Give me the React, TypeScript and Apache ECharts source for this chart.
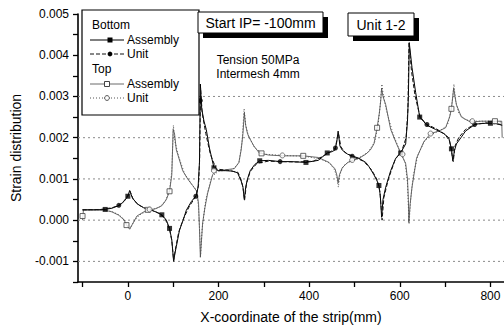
import React, { useEffect, useRef } from "react";
import * as echarts from "echarts";

const FONT = '"Liberation Sans", Arial, Helvetica, sans-serif';

// Bottom - Assembly (solid, filled squares)
const baX = [-100, -70, -50, -35, -18, -8, 0, 4, 10, 20, 35, 50, 62, 75, 85, 92, 97, 101, 104, 107, 114, 122, 129, 140, 151, 155, 158, 160, 163, 168, 173, 180, 190, 200, 215, 230, 242, 250, 254, 257, 260, 264, 270, 280, 291, 310, 336, 360, 393, 420, 440, 450, 457, 461, 464, 468, 473, 485, 495, 510, 525, 532, 543, 550, 554, 557, 560, 563, 569, 580, 591, 602, 613, 617, 619, 621, 624, 627, 635, 644, 652, 660, 679, 697, 708, 714, 717, 721, 725, 735, 745, 767, 790, 810, 826];
const baY = [0.00025, 0.00025, 0.00026, 0.00029, 0.00036, 0.00046, 0.00058, 0.00072, 0.00054, 0.0004, 0.0003, 0.00025, 0.0002, 0.00013, 0.0, -0.0002, -0.00048, -0.001, -0.0008, -0.00064, -0.00024, 0.0, 0.00024, 0.00045, 0.0006, 0.0008, 0.0014, 0.0033, 0.0027, 0.0024, 0.0022, 0.00175, 0.00127, 0.0012, 0.0012, 0.00119, 0.00115, 0.00095, 0.0008, 0.0005, 0.0008, 0.001, 0.0012, 0.00135, 0.00144, 0.00145, 0.00142, 0.00142, 0.0014, 0.00145, 0.00163, 0.00166, 0.0017, 0.0019, 0.00216, 0.0018, 0.0017, 0.0016, 0.00156, 0.0015, 0.0014, 0.0013, 0.0011, 0.00095, 0.00084, 0.0006, 0.00007, 0.0005, 0.0008, 0.0012, 0.0015, 0.00163, 0.00185, 0.0024, 0.003, 0.0043, 0.004, 0.0037, 0.0031, 0.0025, 0.0024, 0.0023, 0.0022, 0.0021, 0.002, 0.00173, 0.00144, 0.0017, 0.00185, 0.002, 0.00216, 0.00233, 0.00235, 0.00235, 0.0023];

// Bottom - Unit (dashed, filled circles)
const buX = [-100, -60, -35, -20, -8, 0, 5, 12, 25, 40, 55, 70, 82, 92, 97, 101, 105, 112, 122, 135, 150, 156, 158.5, 160.5, 164, 172, 182, 195, 220, 243, 250, 254, 257.5, 262, 270, 285, 310, 336, 370, 410, 435, 450, 458, 462, 465, 470, 480, 500, 520, 538, 550, 556, 559, 561, 565, 575, 590, 605, 614, 618, 620.5, 622, 626, 634, 645, 660, 680, 700, 710, 715, 718, 722, 730, 745, 765, 790, 826];
const buY = [0.00025, 0.00026, 0.0003, 0.00036, 0.00047, 0.0006, 0.0007, 0.0005, 0.00036, 0.00028, 0.00023, 0.00016, 0.00004, -0.00022, -0.0005, -0.00098, -0.0007, -0.0003, 0.00002, 0.00032, 0.00058, 0.00085, 0.0015, 0.0032, 0.0026, 0.0021, 0.0016, 0.00124, 0.00121, 0.00116, 0.00098, 0.0008, 0.00048, 0.0009, 0.00118, 0.00138, 0.00143, 0.00142, 0.00141, 0.00143, 0.00158, 0.00168, 0.00175, 0.002, 0.0021, 0.00178, 0.00163, 0.00152, 0.00143, 0.00122, 0.00098, 0.0007, 0.0003, 0.0, 0.00055, 0.001, 0.00147, 0.0017, 0.002, 0.0027, 0.0044, 0.0041, 0.0036, 0.003, 0.0025, 0.00232, 0.00222, 0.00208, 0.00192, 0.0016, 0.00142, 0.0018, 0.002, 0.0022, 0.00232, 0.00236, 0.00232];

// Top - Assembly (solid, open squares)
const taX = [-100, -98, -70, -50, -35, -20, -8, -3, 4, 10, 20, 35, 50, 62, 75, 85, 92, 97, 100, 103, 107, 110, 121, 132, 143, 152, 156, 158, 160, 163, 165, 170, 176, 187, 195, 215, 235, 245, 250, 254, 257, 260, 264, 268, 278, 290, 310, 341, 387, 420, 444, 452, 457, 461, 464, 467, 473, 485, 495, 510, 525, 535, 543, 550, 555, 558, 560, 563, 569, 580, 593, 602, 613, 617, 619, 620, 623, 627, 637, 653, 668, 686, 701, 710, 714, 717, 719, 722, 725, 736, 756, 780, 810, 825, 826];
const taY = [0.0, 0.00025, 0.00025, 0.00024, 0.0002, 0.00012, 0.0, -0.00012, -0.00022, -0.0001, 0.0001, 0.0002, 0.00025, 0.00028, 0.00035, 0.0005, 0.0007, 0.0011, 0.0022, 0.0021, 0.0017, 0.0016, 0.0012, 0.001, 0.00084, 0.0007, 0.0004, -0.0002, -0.0009, -0.0004, -0.00007, 0.0003, 0.00065, 0.0011, 0.0012, 0.00122, 0.00125, 0.0014, 0.0017, 0.0021, 0.0026, 0.0023, 0.0021, 0.002, 0.0018, 0.00163, 0.00158, 0.00156, 0.00156, 0.00152, 0.0014, 0.0013, 0.00125, 0.0011, 0.0009, 0.0011, 0.00127, 0.0014, 0.00144, 0.0015, 0.0016, 0.0017, 0.00185, 0.00224, 0.0026, 0.0029, 0.0032, 0.003, 0.0028, 0.0022, 0.00185, 0.00163, 0.00137, 0.001, 0.0005, -0.00005, 0.0004, 0.0008, 0.0015, 0.0019, 0.0021, 0.00216, 0.00224, 0.0025, 0.0027, 0.003, 0.0032, 0.003, 0.0028, 0.0025, 0.00238, 0.0024, 0.0024, 0.0024, 0.002];

// Top - Unit (dotted, open circles)
const tuX = [-100, -60, -35, -20, -8, 0, 5, 12, 25, 40, 55, 70, 82, 92, 97, 100.5, 104, 112, 125, 140, 152, 156, 158.5, 160.5, 164, 172, 185, 200, 230, 245, 252, 256.5, 260, 266, 280, 300, 341, 390, 425, 446, 456, 461, 464.5, 468, 476, 495, 515, 530, 545, 552, 557, 560.5, 564, 572, 585, 600, 612, 617, 620.5, 624, 630, 640, 655, 670, 690, 705, 712, 716, 719.5, 723, 730, 745, 770, 800, 826];
const tuY = [0.00025, 0.00025, 0.00021, 0.00013, 0.00002, -0.00013, -0.0002, -0.00006, 0.00012, 0.00021, 0.00026, 0.00032, 0.00045, 0.00072, 0.0012, 0.0023, 0.0019, 0.00155, 0.00113, 0.00088, 0.00072, 0.0003, -0.0003, -0.00085, -0.0002, 0.0005, 0.00105, 0.00119, 0.00122, 0.00138, 0.0019, 0.0027, 0.0023, 0.00205, 0.00175, 0.0016, 0.00157, 0.00155, 0.00148, 0.00138, 0.00122, 0.00105, 0.0008, 0.00112, 0.00132, 0.00146, 0.00154, 0.00165, 0.0019, 0.0023, 0.0028, 0.0033, 0.003, 0.0026, 0.0021, 0.00168, 0.0014, 0.0009, -0.0001, 0.0005, 0.0011, 0.00158, 0.00192, 0.00208, 0.00218, 0.0023, 0.0026, 0.0029, 0.0033, 0.0029, 0.0026, 0.00243, 0.0024, 0.0024, 0.00238];

// Marker points
const baMarks = [[-50, 0.00026], [0, 0.00058], [75, 0.00013], [92, -0.0002], [190, 0.00127], [291, 0.00144], [393, 0.0014], [440, 0.00163], [554, 0.00084], [602, 0.00163], [644, 0.0025], [714, 0.00173], [800, 0.00235]];
const buMarks = [[-20, 0.00036], [150, 0.00058], [160, 0.0029], [336, 0.00142], [458, 0.00175], [495, 0.00155], [660, 0.00232], [765, 0.00232]];
const taMarks = [[-100, 0.0001], [-3, -0.00012], [44, 0.00025], [92, 0.0007], [295, 0.00162], [387, 0.00156], [550, 0.00224], [714, 0.0027], [810, 0.0024]];
const tuMarks = [[48, 0.00026], [190, 0.0012], [341, 0.00157], [495, 0.00146], [606, 0.0016], [668, 0.0021], [760, 0.0024]];

// Axes
const xMin = -110;
const xMax = 830;
const xTicks = [-100, 0, 100, 200, 300, 400, 500, 600, 700, 800];
const xLabels = [0, 200, 400, 600, 800];
const gridY = [-0.001, 0.0, 0.001, 0.002, 0.003];

const zip = (xs: number[], ys: number[]) => xs.map((x, i) => [x, ys[i]]);

const txt = (text: string, x: number, y: number, size: number, align = "left") => ({
  type: "text",
  x,
  y,
  z: 60,
  style: {
    text,
    fill: "#000",
    font: `${size}px ${FONT}`,
    textAlign: align,
    align,
    textVerticalAlign: "middle",
    verticalAlign: "middle",
  },
});

export default function App() {
  const ref = useRef<HTMLDivElement>(null);
  useEffect(() => {
    const chart = echarts.init(ref.current!, null, { renderer: "svg" });
    const gridSeries = gridY.map((v) => ({
      type: "line",
      data: [[xMin, v], [xMax, v]],
      symbol: "none",
      silent: true,
      z: 1,
      lineStyle: { color: "#8a8a8a", width: 1, type: [2, 3] },
    }));
    const option: any = {
      animation: false,
      backgroundColor: "#fff",
      textStyle: { fontFamily: FONT },
      grid: { left: 78, top: 14, width: 428, height: 268 },
      xAxis: {
        type: "value",
        min: xMin,
        max: xMax,
        name: "X-coordinate of the strip(mm)",
        nameLocation: "middle",
        nameGap: 28,
        nameTextStyle: { fontSize: 14, color: "#000", fontFamily: FONT },
        axisLine: { show: true, onZero: false, lineStyle: { color: "#000", width: 1.6 } },
        axisTick: { show: true, length: 5, customValues: xTicks, lineStyle: { color: "#000", width: 1.3 } },
        axisLabel: { customValues: xLabels, fontSize: 12, color: "#000", margin: 8, fontFamily: FONT },
        splitLine: { show: false },
      },
      yAxis: {
        type: "value",
        min: -0.0015,
        max: 0.005,
        interval: 0.0005,
        name: "Strain distribution",
        nameLocation: "middle",
        nameGap: 55,
        nameTextStyle: { fontSize: 14, color: "#000", fontFamily: FONT },
        axisLine: { show: true, onZero: false, lineStyle: { color: "#000", width: 1.6 } },
        axisTick: { show: true, length: 5, lineStyle: { color: "#000", width: 1.3 } },
        axisLabel: {
          fontSize: 12,
          color: "#000",
          margin: 9,
          fontFamily: FONT,
          formatter: (v: number) => {
            const k = v * 1000;
            if (Math.abs(k - Math.round(k)) > 1e-6 || k < -1.2) return "";
            return (Math.round(k) / 1000 + 0).toFixed(3);
          },
        },
        splitLine: { show: false },
      },
      series: [
        ...gridSeries,
        {
          name: "Bottom Assembly",
          type: "line",
          data: zip(baX, baY),
          symbol: "none",
          lineStyle: { color: "#000", width: 1 },
          z: 4,
        },
        {
          name: "Bottom Unit",
          type: "line",
          data: zip(buX, buY),
          symbol: "none",
          lineStyle: { color: "#111", width: 1, type: [4, 2] },
          z: 4,
        },
        {
          name: "Top Assembly",
          type: "line",
          data: zip(taX, taY),
          symbol: "none",
          lineStyle: { color: "#444", width: 0.8 },
          z: 3,
        },
        {
          name: "Top Unit",
          type: "line",
          data: zip(tuX, tuY),
          symbol: "none",
          lineStyle: { color: "#555", width: 1, type: [1, 2] },
          z: 3,
        },
        {
          type: "scatter",
          data: baMarks,
          symbol: "rect",
          symbolSize: 5,
          itemStyle: { color: "#000" },
          z: 6,
        },
        {
          type: "scatter",
          data: buMarks,
          symbol: "circle",
          symbolSize: 5,
          itemStyle: { color: "#000" },
          z: 6,
        },
        {
          type: "scatter",
          data: taMarks,
          symbol: "rect",
          symbolSize: 5,
          itemStyle: { color: "#fff", borderColor: "#444", borderWidth: 1 },
          z: 6,
        },
        {
          type: "scatter",
          data: tuMarks,
          symbol: "circle",
          symbolSize: 5,
          itemStyle: { color: "#fff", borderColor: "#555", borderWidth: 1 },
          z: 6,
        },
      ],
      graphic: [
        { type: "rect", z: 50, shape: { x: 82, y: 10, width: 117, height: 105 }, style: { fill: "#fff", stroke: "#000", lineWidth: 1.2 } },
        txt("Bottom", 92, 25, 12),
        { type: "line", z: 55, shape: { x1: 90, y1: 40, x2: 124, y2: 40 }, style: { stroke: "#000", lineWidth: 1 } },
        { type: "rect", z: 56, shape: { x: 107.5, y: 37.5, width: 5, height: 5 }, style: { fill: "#000" } },
        txt("Assembly", 127, 40, 12),
        { type: "line", z: 55, shape: { x1: 90, y1: 54, x2: 124, y2: 54 }, style: { stroke: "#111", lineWidth: 1, lineDash: [4, 2] } },
        { type: "circle", z: 56, shape: { cx: 110, cy: 54, r: 2.4 }, style: { fill: "#000" } },
        txt("Unit", 127, 54, 12),
        txt("Top", 92, 69, 12),
        { type: "line", z: 55, shape: { x1: 90, y1: 84, x2: 124, y2: 84 }, style: { stroke: "#444", lineWidth: 0.8 } },
        { type: "rect", z: 56, shape: { x: 104.5, y: 81.5, width: 5, height: 5 }, style: { fill: "#fff", stroke: "#444", lineWidth: 1 } },
        txt("Assembly", 127, 84, 12),
        { type: "line", z: 55, shape: { x1: 90, y1: 98, x2: 124, y2: 98 }, style: { stroke: "#555", lineWidth: 1, lineDash: [1, 2] } },
        { type: "circle", z: 56, shape: { cx: 107, cy: 98, r: 2.4 }, style: { fill: "#fff", stroke: "#555", lineWidth: 1 } },
        txt("Unit", 127, 98, 12),

        { type: "rect", z: 50, shape: { x: 203, y: 17, width: 125, height: 21 }, style: { fill: "#000" } },
        { type: "rect", z: 51, shape: { x: 198, y: 12, width: 125, height: 21 }, style: { fill: "#fff", stroke: "#000", lineWidth: 1 } },
        txt("Start IP= -100mm", 260.5, 22.5, 14, "center"),

        { type: "rect", z: 50, shape: { x: 353, y: 18, width: 66, height: 23 }, style: { fill: "#000" } },
        { type: "rect", z: 51, shape: { x: 348, y: 13, width: 66, height: 23 }, style: { fill: "#fff", stroke: "#000", lineWidth: 1 } },
        txt("Unit 1-2", 381, 24.5, 14, "center"),

        txt("Tension 50MPa", 258, 60, 12, "center"),
        txt("Intermesh 4mm", 258, 74, 12, "center"),
      ],
    };
    chart.setOption(option);
    return () => chart.dispose();
  }, []);
  return <div ref={ref} style={{ position: "fixed", left: 0, top: 0, width: 504, height: 329 }} />;
}
